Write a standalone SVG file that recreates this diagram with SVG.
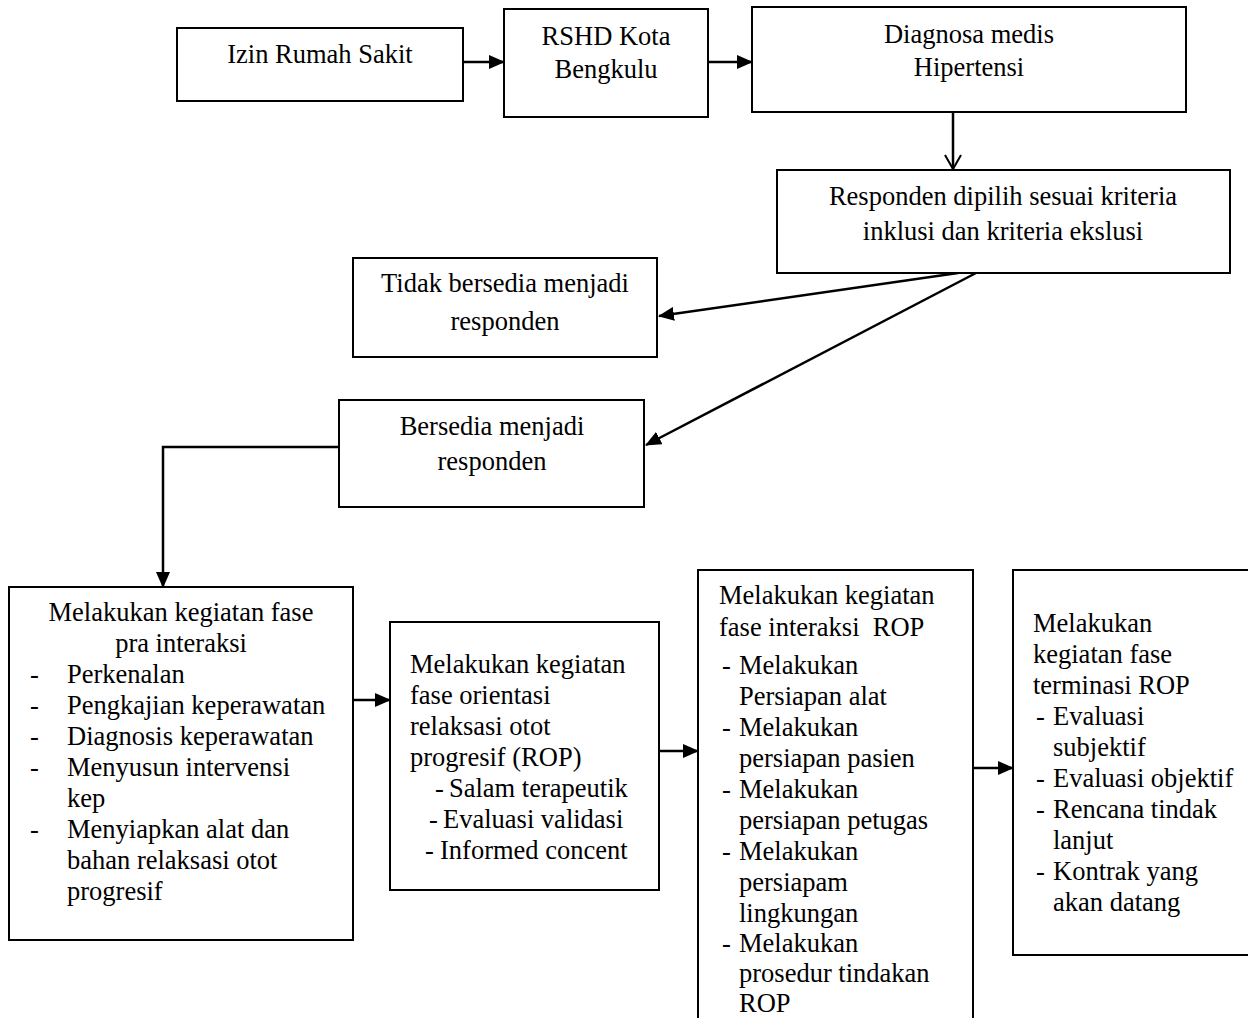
<svg xmlns="http://www.w3.org/2000/svg" width="1248" height="1018" viewBox="0 0 1248 1018">
<style>
rect.box{fill:#fff;stroke:#000;stroke-width:2}
text{font-family:"Liberation Serif","Times New Roman",serif;font-size:26.5px;fill:#000}
.c{text-anchor:middle}
.conn{fill:none;stroke:#000;stroke-width:2.5}
</style>
<defs>
<marker id="ah" markerUnits="userSpaceOnUse" markerWidth="16" markerHeight="14" viewBox="0 0 16 14" refX="15" refY="7" orient="auto">
<path d="M0,0 L16,7 L0,14 z" fill="#000"/>
</marker>
<marker id="av" markerUnits="userSpaceOnUse" markerWidth="18" markerHeight="20" viewBox="0 0 18 20" refX="15" refY="10" orient="auto">
<path d="M1,2 L15,10 L1,18" fill="none" stroke="#000" stroke-width="2"/>
</marker>
</defs>
<g id="connectors">
<line class="conn" x1="463" y1="62" x2="504" y2="62" marker-end="url(#ah)"/>
<line class="conn" x1="708" y1="62" x2="752" y2="62" marker-end="url(#ah)"/>
<line class="conn" x1="953" y1="112" x2="953" y2="169" marker-end="url(#av)"/>
<line class="conn" x1="958" y1="273" x2="659" y2="316" marker-end="url(#ah)"/>
<line class="conn" x1="976" y1="273" x2="646" y2="445" marker-end="url(#ah)"/>
<polyline class="conn" points="339,447 163,447 163,587" marker-end="url(#ah)"/>
<line class="conn" x1="353" y1="700" x2="390" y2="700" marker-end="url(#ah)"/>
<line class="conn" x1="657" y1="751" x2="698" y2="751" marker-end="url(#ah)"/>
<line class="conn" x1="973" y1="768" x2="1013" y2="768" marker-end="url(#ah)"/>
</g>
<g id="n1">
<rect class="box" x="177" y="28" width="286" height="73"/>
<text class="c" x="320" y="63">Izin Rumah Sakit</text>
</g>
<g id="n2">
<rect class="box" x="504" y="9" width="204" height="108"/>
<text class="c" x="606" y="45">RSHD Kota</text>
<text class="c" x="606" y="78">Bengkulu</text>
</g>
<g id="n3">
<rect class="box" x="752" y="7" width="434" height="105"/>
<text class="c" x="969" y="43">Diagnosa medis</text>
<text class="c" x="969" y="76">Hipertensi</text>
</g>
<g id="n4">
<rect class="box" x="777" y="170" width="453" height="103"/>
<text class="c" x="1003" y="205">Responden dipilih sesuai kriteria</text>
<text class="c" x="1003" y="240">inklusi dan kriteria ekslusi</text>
</g>
<g id="n5">
<rect class="box" x="353" y="258" width="304" height="99"/>
<text class="c" x="505" y="292">Tidak bersedia menjadi</text>
<text class="c" x="505" y="330">responden</text>
</g>
<g id="n6">
<rect class="box" x="339" y="400" width="305" height="107"/>
<text class="c" x="492" y="435">Bersedia menjadi</text>
<text class="c" x="492" y="470">responden</text>
</g>
<g id="n7">
<rect class="box" x="9" y="587" width="344" height="353"/>
<text class="c" x="181" y="621">Melakukan kegiatan fase</text>
<text class="c" x="181" y="652">pra interaksi</text>
<text x="30" y="683">-</text><text x="67" y="683">Perkenalan</text>
<text x="30" y="714">-</text><text x="67" y="714">Pengkajian keperawatan</text>
<text x="30" y="745">-</text><text x="67" y="745">Diagnosis keperawatan</text>
<text x="30" y="776">-</text><text x="67" y="776">Menyusun intervensi</text>
<text x="67" y="807">kep</text>
<text x="30" y="838">-</text><text x="67" y="838">Menyiapkan alat dan</text>
<text x="67" y="869">bahan relaksasi otot</text>
<text x="67" y="900">progresif</text>
</g>
<g id="n8">
<rect class="box" x="390" y="622" width="269" height="268"/>
<text x="410" y="673">Melakukan kegiatan</text>
<text x="410" y="704">fase orientasi</text>
<text x="410" y="735">relaksasi otot</text>
<text x="410" y="766">progresif (ROP)</text>
<text x="435" y="797">-</text><text x="449" y="797">Salam terapeutik</text>
<text x="429" y="828">-</text><text x="443" y="828">Evaluasi validasi</text>
<text x="425" y="859">-</text><text x="440" y="859">Informed concent</text>
</g>
<g id="n9">
<rect class="box" x="698" y="570" width="275" height="460"/>
<text x="719" y="604">Melakukan kegiatan</text>
<text x="719" y="636" xml:space="preserve">fase interaksi  ROP</text>
<text x="722" y="674">-</text><text x="739" y="674">Melakukan</text>
<text x="739" y="705">Persiapan alat</text>
<text x="722" y="736">-</text><text x="739" y="736">Melakukan</text>
<text x="739" y="767">persiapan pasien</text>
<text x="722" y="798">-</text><text x="739" y="798">Melakukan</text>
<text x="739" y="829">persiapan petugas</text>
<text x="722" y="860">-</text><text x="739" y="860">Melakukan</text>
<text x="739" y="891">persiapam</text>
<text x="739" y="922">lingkungan</text>
<text x="722" y="952">-</text><text x="739" y="952">Melakukan</text>
<text x="739" y="982">prosedur tindakan</text>
<text x="739" y="1012">ROP</text>
</g>
<g id="n10">
<rect class="box" x="1013" y="570" width="250" height="385"/>
<text x="1033" y="632">Melakukan</text>
<text x="1033" y="663">kegiatan fase</text>
<text x="1033" y="694">terminasi ROP</text>
<text x="1036" y="725">-</text><text x="1053" y="725">Evaluasi</text>
<text x="1053" y="756">subjektif</text>
<text x="1036" y="787">-</text><text x="1053" y="787">Evaluasi objektif</text>
<text x="1036" y="818">-</text><text x="1053" y="818">Rencana tindak</text>
<text x="1053" y="849">lanjut</text>
<text x="1036" y="880">-</text><text x="1053" y="880">Kontrak yang</text>
<text x="1053" y="911">akan datang</text>
</g>
</svg>
